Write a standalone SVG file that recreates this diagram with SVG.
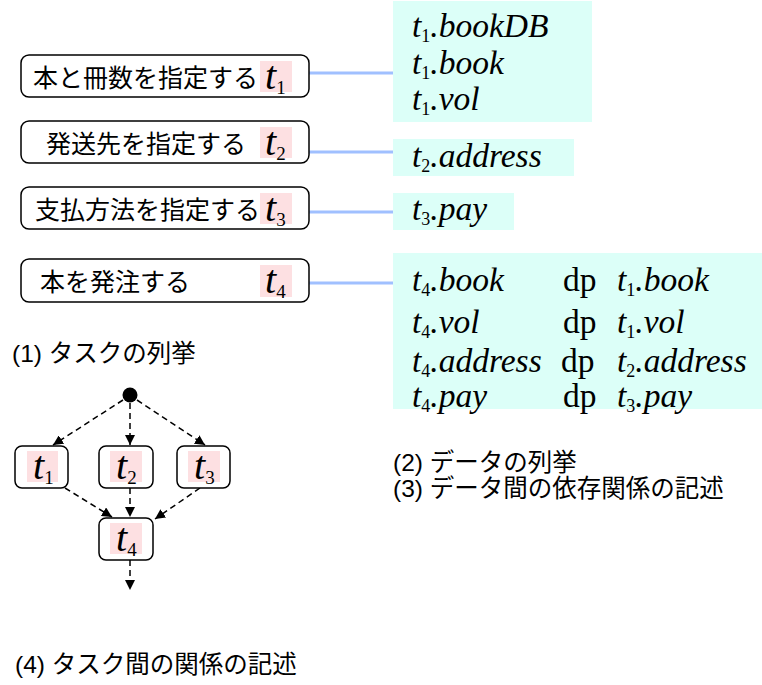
<svg xmlns="http://www.w3.org/2000/svg" width="762" height="685" viewBox="0 0 762 685">
<defs>
<style>
.tb{fill:#fff;stroke:#000;stroke-width:1.5}
.pk{fill:#fde0e2}
.cy{fill:#dcfff8}
.jp{font-family:"Liberation Sans","Noto Sans CJK JP",sans-serif;font-size:25px;fill:#000}
.lb{font-family:"Liberation Sans","Noto Sans CJK JP",sans-serif;font-size:24.5px;fill:#000}
.ti{font-family:"Liberation Serif",serif;font-style:italic;font-size:40px;fill:#000}
.d{font-family:"Liberation Serif",serif;font-style:italic;font-size:33.5px;fill:#000}
.sub{font-style:normal;font-size:19px}
.dsub{font-style:normal;font-size:18px}
.rm{font-style:normal}
.bl{stroke:#a0c0ff;stroke-width:3;fill:none}
.da{stroke:#000;stroke-width:1.5;stroke-dasharray:6 4;fill:none;marker-end:url(#ah)}
</style>
<marker id="ah" viewBox="0 0 10 10" refX="10" refY="5" markerWidth="10" markerHeight="10" markerUnits="userSpaceOnUse" orient="auto">
<path d="M0,0 L10,5 L0,10 z" fill="#000"/>
</marker>
</defs>

<!-- data boxes -->
<g id="dataA">
<rect class="cy" x="393" y="1" width="199" height="121"/>
<text class="d" x="412" y="37">t<tspan class="dsub" dy="5">1</tspan><tspan dy="-5">.bookDB</tspan></text>
<text class="d" x="412" y="74">t<tspan class="dsub" dy="5">1</tspan><tspan dy="-5">.book</tspan></text>
<text class="d" x="412" y="110">t<tspan class="dsub" dy="5">1</tspan><tspan dy="-5">.vol</tspan></text>
</g>
<g id="dataB">
<rect class="cy" x="393" y="139" width="181" height="37"/>
<text class="d" x="412" y="167">t<tspan class="dsub" dy="5">2</tspan><tspan dy="-5">.address</tspan></text>
</g>
<g id="dataC">
<rect class="cy" x="393" y="193" width="121" height="37"/>
<text class="d" x="412" y="220">t<tspan class="dsub" dy="5">3</tspan><tspan dy="-5">.pay</tspan></text>
</g>
<g id="dataD">
<rect class="cy" x="393" y="253" width="369" height="156"/>
<text class="d" x="412" y="291">t<tspan class="dsub" dy="5">4</tspan><tspan dy="-5">.book</tspan></text>
<text class="d rm" x="563" y="291">dp</text>
<text class="d" x="617" y="291">t<tspan class="dsub" dy="5">1</tspan><tspan dy="-5">.book</tspan></text>
<text class="d" x="412" y="333">t<tspan class="dsub" dy="5">4</tspan><tspan dy="-5">.vol</tspan></text>
<text class="d rm" x="563" y="333">dp</text>
<text class="d" x="617" y="333">t<tspan class="dsub" dy="5">1</tspan><tspan dy="-5">.vol</tspan></text>
<text class="d" x="412" y="372">t<tspan class="dsub" dy="5">4</tspan><tspan dy="-5">.address</tspan></text>
<text class="d rm" x="561" y="372">dp</text>
<text class="d" x="617" y="372">t<tspan class="dsub" dy="5">2</tspan><tspan dy="-5">.address</tspan></text>
<text class="d" x="412" y="407">t<tspan class="dsub" dy="5">4</tspan><tspan dy="-5">.pay</tspan></text>
<text class="d rm" x="563" y="407">dp</text>
<text class="d" x="617" y="407">t<tspan class="dsub" dy="5">3</tspan><tspan dy="-5">.pay</tspan></text>
</g>

<!-- connectors -->
<g id="connectors">
<line class="bl" x1="309" y1="73" x2="393" y2="73"/>
<line class="bl" x1="309" y1="152" x2="393" y2="152"/>
<line class="bl" x1="309" y1="212" x2="393" y2="212"/>
<line class="bl" x1="309" y1="283" x2="393" y2="283"/>
<path class="da" d="M123,400 L53,445"/>
<path class="da" d="M130,403 L130,445"/>
<path class="da" d="M137,400 L205,445"/>
<path class="da" d="M65,488 L112,517"/>
<path class="da" d="M130,488 L130,517"/>
<path class="da" d="M200,488 L155,519"/>
<path class="da" d="M130,560 L130,590"/>
</g>

<!-- task boxes -->
<g id="task1">
<rect class="tb" x="21" y="55" width="288" height="42" rx="8"/>
<rect class="pk" x="260" y="61" width="32" height="31"/>
<text class="jp" x="33" y="87">本と冊数を指定する</text>
<text class="ti" x="265" y="89">t<tspan class="sub" dy="5">1</tspan></text>
</g>
<g id="task2">
<rect class="tb" x="21" y="121" width="288" height="42" rx="8"/>
<rect class="pk" x="260" y="127" width="32" height="31"/>
<text class="jp" x="46" y="153">発送先を指定する</text>
<text class="ti" x="265" y="155">t<tspan class="sub" dy="5">2</tspan></text>
</g>
<g id="task3">
<rect class="tb" x="21" y="187" width="288" height="42" rx="8"/>
<rect class="pk" x="260" y="193" width="32" height="31"/>
<text class="jp" x="35" y="219">支払方法を指定する</text>
<text class="ti" x="265" y="221">t<tspan class="sub" dy="5">3</tspan></text>
</g>
<g id="task4">
<rect class="tb" x="21" y="259" width="288" height="43" rx="8"/>
<rect class="pk" x="260" y="265" width="32" height="32"/>
<text class="jp" x="40" y="291">本を発注する</text>
<text class="ti" x="265" y="293">t<tspan class="sub" dy="5">4</tspan></text>
</g>

<!-- graph -->
<g id="start"><circle cx="130" cy="395" r="7.5" fill="#000"/></g>
<g id="g1">
<rect class="tb" x="15" y="446" width="53" height="42" rx="7"/>
<rect class="pk" x="27" y="451" width="31" height="31"/>
<text class="ti" x="33" y="479">t<tspan class="sub" dy="5">1</tspan></text>
</g>
<g id="g2">
<rect class="tb" x="99" y="446" width="54" height="42" rx="7"/>
<rect class="pk" x="110" y="451" width="32" height="31"/>
<text class="ti" x="116" y="479">t<tspan class="sub" dy="5">2</tspan></text>
</g>
<g id="g3">
<rect class="tb" x="177" y="446" width="53" height="42" rx="7"/>
<rect class="pk" x="188" y="451" width="32" height="31"/>
<text class="ti" x="194" y="479">t<tspan class="sub" dy="5">3</tspan></text>
</g>
<g id="g4">
<rect class="tb" x="99" y="518" width="54" height="42" rx="7"/>
<rect class="pk" x="110" y="523" width="32" height="31"/>
<text class="ti" x="116" y="551">t<tspan class="sub" dy="5">4</tspan></text>
</g>

<!-- captions -->
<text class="lb" x="12" y="362">(1) タスクの列挙</text>
<text class="lb" x="393" y="471">(2) データの列挙</text>
<text class="lb" x="393" y="497">(3) データ間の依存関係の記述</text>
<text class="lb" x="15" y="673">(4) タスク間の関係の記述</text>
</svg>
